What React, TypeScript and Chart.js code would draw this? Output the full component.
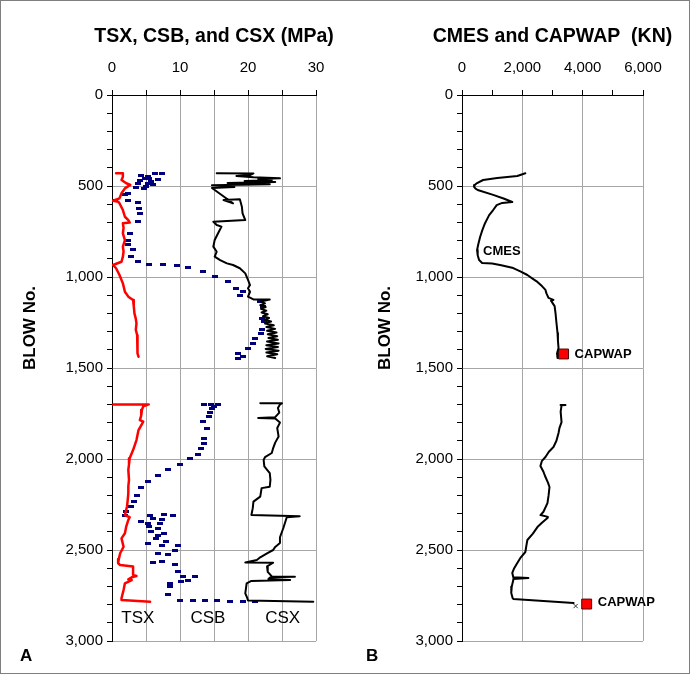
import React, { useEffect, useRef } from 'react';
import { Chart, registerables } from 'chart.js';

Chart.register(...registerables);

const FONT = '"Liberation Sans", Arial, Helvetica, sans-serif';

// ---------- Panel A : [blow number, stress MPa] ----------
const tsxUpper: [number, number][] = [
  [430, 0.6], [430, 1.6], [449, 1.6], [467, 1.4], [485, 2.1], [494, 2.7], [513, 1.9], [540, 1.4],
  [568, 1.1], [581, 0.15], [586, 0.9], [595, 1.1], [632, 1.6], [669, 1.9], [687, 2.4], [701, 2.6],
  [705, 1.6], [730, 1.7], [760, 1.6], [797, 1.9], [833, 1.6], [860, 1.7], [888, 1.6], [916, 1.4],
  [934, 0.15], [952, 0.6], [989, 1.1], [1035, 1.6], [1081, 1.9], [1108, 2.4], [1126, 3.1], [1160, 3.2],
  [1200, 3.3], [1230, 3.5], [1255, 3.6], [1290, 3.5], [1320, 3.7], [1346, 3.7], [1380, 3.8], [1401, 3.8],
  [1420, 3.7], [1438, 3.9],
];
const tsxLower: [number, number][] = [
  [1700, 0.2], [1700, 5.4], [1710, 4.6], [1730, 4.4], [1760, 4.3], [1786, 4.1], [1795, 4.6], [1841, 3.9],
  [1896, 3.6], [1951, 3.1], [1996, 2.6], [2030, 2.5], [2060, 2.4], [2115, 2.5], [2150, 2.4], [2188, 2.4],
  [2230, 2.3], [2262, 2.2], [2308, 1.9], [2320, 2.6], [2335, 2.4], [2370, 2.1], [2408, 1.9], [2436, 1.4],
  [2482, 1.7], [2518, 1.2], [2550, 1.0], [2573, 0.9], [2582, 1.2], [2591, 3.1], [2637, 3.1], [2643, 3.6],
  [2650, 2.9], [2661, 2.4], [2665, 2.9], [2683, 1.9], [2720, 1.7], [2765, 1.4], [2775, 1.4], [2784, 5.6],
];
const csbUpper: [number, number][] = [
  [430, 7.3], [434, 6.3], [445, 4.3], [449, 5.3], [458, 5.5], [458, 4.8], [467, 6.8], [471, 4.1],
  [476, 5.8], [485, 5.3], [489, 3.8], [494, 6.0], [500, 5.0], [507, 3.6], [513, 4.7], [540, 2.4],
  [549, 1.9], [577, 0.4], [581, 2.4], [592, 3.8], [623, 3.9], [650, 4.1], [696, 3.8], [760, 2.6],
  [797, 2.4], [824, 2.4], [848, 3.1], [888, 2.8], [916, 3.8], [929, 5.5], [934, 7.5], [938, 9.5],
  [947, 11.2], [971, 13.4], [995, 15.1], [1026, 17.1], [1062, 18.3], [1080, 19.3], [1099, 18.8],
  [1136, 21.7], [1160, 22.2], [1227, 22.0], [1245, 22.3], [1291, 22.0], [1310, 21.9], [1337, 21.0],
  [1364, 20.7], [1392, 20.0], [1419, 18.6], [1438, 19.3], [1447, 18.5],
];
const csbLower: [number, number][] = [
  [1700, 13.6], [1700, 14.6], [1703, 15.6], [1712, 15.0], [1725, 14.7], [1745, 14.4], [1765, 14.2],
  [1795, 13.4], [1832, 13.9], [1886, 13.6], [1914, 13.6], [1941, 13.1], [1974, 12.6], [1996, 11.4],
  [2029, 10.0], [2055, 8.2], [2092, 6.7], [2121, 5.3], [2158, 4.3], [2198, 3.7], [2234, 3.3],
  [2262, 2.8], [2289, 2.1], [2308, 1.9], [2308, 5.6], [2304, 7.7], [2308, 9.0], [2326, 6.0],
  [2330, 7.3], [2344, 4.3], [2353, 5.3], [2353, 7.0], [2372, 5.5], [2381, 6.8], [2399, 5.8],
  [2408, 7.7], [2418, 6.8], [2436, 6.5], [2454, 8.0], [2463, 5.3], [2473, 7.3], [2473, 9.7],
  [2500, 9.2], [2518, 6.8], [2527, 8.2], [2564, 7.3], [2569, 6.0], [2582, 9.2], [2619, 9.7],
  [2647, 10.4], [2647, 12.2], [2665, 11.2], [2674, 10.2], [2683, 8.5], [2701, 8.5], [2747, 8.2],
  [2775, 10.0], [2776, 11.9], [2778, 13.7], [2780, 15.4], [2781, 17.4], [2782, 19.2], [2783, 21.0],
];
const csxUpper: [number, number][] = [
  [430, 15.4], [431, 20.8], [440, 20.3], [445, 18.3], [452, 20.8], [458, 24.7], [462, 21.5], [468, 23.5],
  [472, 19.5], [478, 24.0], [484, 17.0], [490, 23.2], [496, 14.7], [505, 18.0], [511, 14.7], [595, 17.8],
  [577, 16.4], [573, 18.8], [614, 19.1], [650, 19.2], [687, 19.6], [696, 14.9], [714, 15.4], [723, 16.1],
  [760, 15.6], [797, 15.1], [833, 14.9], [861, 15.4], [888, 15.1], [907, 15.9], [925, 16.9], [934, 17.8],
  [952, 18.8], [980, 19.6], [1016, 20.0], [1044, 20.3], [1062, 20.0], [1081, 20.3], [1108, 20.0],
  [1123, 20.8], [1124, 23.2], [1135, 21.9], [1145, 22.5], [1155, 21.8], [1165, 22.6], [1175, 21.9],
  [1185, 22.7], [1195, 22.0], [1205, 22.9], [1215, 22.2], [1225, 23.1], [1235, 22.4], [1245, 23.4],
  [1255, 22.5], [1265, 23.8], [1275, 22.7], [1285, 24.0], [1295, 22.8], [1305, 24.2], [1315, 22.9],
  [1325, 24.3], [1335, 23.0], [1345, 24.4], [1355, 22.8], [1365, 24.5], [1375, 22.7], [1385, 24.4],
  [1395, 22.6], [1405, 24.5], [1415, 22.7], [1425, 24.3], [1435, 22.8], [1445, 24.0],
];
const csxLower: [number, number][] = [
  [1693, 21.8], [1694, 25.0], [1700, 24.7], [1720, 24.4], [1745, 24.6], [1770, 24.0], [1775, 21.5],
  [1778, 24.0], [1800, 24.7], [1830, 24.3], [1877, 24.5], [1910, 24.0], [1940, 23.7], [1967, 23.5],
  [1990, 22.5], [2005, 22.3], [2040, 22.4], [2077, 23.2], [2115, 23.3], [2152, 23.2], [2160, 22.0],
  [2207, 21.8], [2234, 20.8], [2270, 20.7], [2308, 20.5], [2314, 27.6], [2320, 25.7], [2379, 25.2],
  [2430, 24.7], [2462, 24.7], [2483, 24.0], [2500, 23.7], [2518, 22.8], [2540, 21.8], [2555, 21.3],
  [2569, 19.6], [2570, 23.7], [2590, 22.8], [2620, 22.9], [2645, 23.5], [2647, 26.9], [2650, 23.3],
  [2660, 23.0], [2665, 26.2], [2670, 20.5], [2683, 19.8], [2738, 19.6], [2765, 19.9], [2778, 20.0],
  [2784, 29.6],
];

// ---------- Panel B : [blow number, force kN] ----------
const cmesUpper: [number, number][] = [
  [430, 2100], [445, 1833], [456, 1167], [467, 700], [484, 500], [495, 420], [505, 400], [515, 450],
  [522, 520], [549, 1033], [570, 1400], [588, 1667], [593, 1333], [605, 1150], [632, 1033], [660, 900],
  [703, 767], [740, 680], [780, 600], [820, 540], [852, 500], [880, 520], [907, 567], [923, 667],
  [926, 1000], [935, 1300], [951, 1700], [970, 1950], [989, 2167], [1010, 2350], [1027, 2500],
  [1050, 2650], [1071, 2767], [1090, 2800], [1115, 2867], [1126, 3033], [1130, 2950], [1160, 3070],
  [1198, 3100], [1250, 3130], [1308, 3167], [1350, 3180], [1390, 3200], [1420, 3150], [1445, 3167],
];
const cmesLower: [number, number][] = [
  [1703, 3267], [1703, 3430], [1705, 3300], [1740, 3270], [1797, 3300], [1830, 3230], [1857, 3200],
  [1900, 3130], [1934, 3033], [1960, 2880], [1989, 2767], [2010, 2650], [2038, 2600], [2070, 2700],
  [2099, 2767], [2130, 2850], [2154, 2900], [2200, 2870], [2242, 2833], [2290, 2700], [2308, 2600],
  [2318, 2850], [2324, 2833], [2350, 2650], [2374, 2500], [2410, 2350], [2445, 2167], [2480, 2130],
  [2511, 2100], [2540, 1950], [2571, 1833], [2600, 1730], [2626, 1667], [2650, 1700], [2654, 2200],
  [2660, 1700], [2665, 1700], [2700, 1650], [2736, 1633], [2765, 1680], [2769, 1700], [2791, 3700],
];
const capwapPoints: [number, number][] = [[1423, 3367], [2797, 4133]];
const endMarkPoints: [number, number][] = [[2808, 3767]];

// ---------- tick labels ----------
const blowTickLabels = [0, 500, 1000, 1500, 2000, 2500, 3000];
const stressTickLabels = [0, 10, 20, 30];
const forceTickLabels = [0, 2000, 4000, 6000];

// ---------- text annotations [text, x value, blow] ----------
const stressNotes: [string, number, number][] = [['TSX', 3.8, 2874], ['CSB', 14.1, 2874], ['CSX', 25.1, 2874]];
const forceNotes: [string, number, number][] = [['CMES', 700, 857], ['CAPWAP', 3733, 1423], ['CAPWAP', 4500, 2786]];

const pts = (arr: [number, number][]) => arr.map(([b, v]) => ({ x: v, y: b }));

const lineDs = (label: string, arr: [number, number][], color: string, width: number) => ({
  label,
  data: pts(arr),
  showLine: true,
  borderColor: color,
  backgroundColor: color,
  borderWidth: width,
  borderJoinStyle: 'round',
  borderCapStyle: 'round',
  pointRadius: 0,
  pointHoverRadius: 0,
  tension: 0,
  fill: false,
});

const yScale = (width: number) => ({
  type: 'linear',
  reverse: true,
  min: 0,
  max: 3000,
  afterFit: (s: any) => { s.width = width; },
  ticks: {
    stepSize: 100,
    autoSkip: false,
    padding: 4,
    color: '#000',
    font: { family: FONT, size: 15 },
    callback: (v: any) => (blowTickLabels.includes(v) ? Number(v).toLocaleString('en-US') : ''),
  },
  grid: {
    color: (c: any) => (c.tick && c.tick.value % 500 === 0 ? '#a6a6a6' : 'rgba(0,0,0,0)'),
    tickColor: '#000',
    tickLength: 5,
    lineWidth: 1,
  },
  border: { color: '#000', width: 1 },
});

const xScale = (max: number, step: number, labels: number[], gridEvery: number) => ({
  type: 'linear',
  position: 'top',
  min: 0,
  max,
  afterFit: (s: any) => { s.height = 95; },
  ticks: {
    stepSize: step,
    autoSkip: false,
    maxRotation: 0,
    padding: 13,
    color: '#000',
    font: { family: FONT, size: 15 },
    callback: (v: any) => (labels.includes(v) ? Number(v).toLocaleString('en-US') : ''),
  },
  grid: {
    color: (c: any) => (c.tick && Math.abs(c.tick.value % gridEvery) < 1e-6 ? '#a6a6a6' : 'rgba(0,0,0,0)'),
    tickColor: '#000',
    tickLength: 5,
    lineWidth: 1,
  },
  border: { color: '#000', width: 1 },
});

const textPlugin = (title: string, titleY: number, yTitleX: number, corner: string, cornerX: number, notes: [string, number, number][], noteFont: string, noteAlign: CanvasTextAlign) => ({
  id: 'panelTexts',
  afterDraw(chart: any) {
    const { ctx, chartArea, scales } = chart;
    ctx.save();
    ctx.fillStyle = '#000';
    ctx.font = `bold 19.5px ${FONT}`;
    ctx.textAlign = 'center';
    ctx.textBaseline = 'middle';
    ctx.fillText(title, (chartArea.left + chartArea.right) / 2, titleY);
    ctx.save();
    ctx.translate(yTitleX, 328);
    ctx.rotate(-Math.PI / 2);
    ctx.font = `bold 17px ${FONT}`;
    ctx.fillText('BLOW No.', 0, 0);
    ctx.restore();
    ctx.font = `bold 17px ${FONT}`;
    ctx.textAlign = 'left';
    ctx.textBaseline = 'alphabetic';
    ctx.fillText(corner, cornerX, 661);
    ctx.font = noteFont;
    ctx.textAlign = noteAlign;
    ctx.textBaseline = 'middle';
    notes.forEach(([t, x, b]) => {
      ctx.fillText(t, scales.x.getPixelForValue(x), scales.y.getPixelForValue(b));
    });
    ctx.restore();
  },
});

function StressPanel() {
  const ref = useRef<HTMLCanvasElement>(null);
  useEffect(() => {
    const dash = document.createElement('canvas');
    dash.width = 6;
    dash.height = 3;
    const dctx = dash.getContext('2d')!;
    dctx.fillStyle = '#00007f';
    dctx.fillRect(0, 0, 6, 3);
    const chart = new Chart(ref.current!, {
      type: 'scatter',
      data: {
        datasets: [
          lineDs('CSX', csxUpper, '#000', 2),
          lineDs('CSX', csxLower, '#000', 2),
          lineDs('TSX', tsxUpper, '#ff0000', 2.5),
          lineDs('TSX', tsxLower, '#ff0000', 2.5),
          { label: 'CSB', data: pts(csbUpper), showLine: false, pointStyle: dash, pointRadius: 3, backgroundColor: '#00007f', borderColor: '#00007f' },
          { label: 'CSB', data: pts(csbLower), showLine: false, pointStyle: dash, pointRadius: 3, backgroundColor: '#00007f', borderColor: '#00007f' },
        ] as any,
      },
      options: {
        responsive: false,
        animation: false,
        devicePixelRatio: 1,
        layout: { padding: { left: 0, top: 0, right: 29, bottom: 33 } },
        plugins: { legend: { display: false }, tooltip: { enabled: false } },
        scales: { x: xScale(30, 5, stressTickLabels, 5), y: yScale(112) } as any,
      },
      plugins: [textPlugin('TSX, CSB, and CSX (MPa)', 37, 30, 'A', 20, stressNotes, `17px ${FONT}`, 'center')],
    });
    return () => chart.destroy();
  }, []);
  return <canvas ref={ref} width={345} height={674} style={{ position: 'absolute', left: 0, top: 0, width: 345, height: 674 }} />;
}

function ForcePanel() {
  const ref = useRef<HTMLCanvasElement>(null);
  useEffect(() => {
    const chart = new Chart(ref.current!, {
      type: 'scatter',
      data: {
        datasets: [
          lineDs('CMES', cmesUpper, '#000', 2),
          lineDs('CMES', cmesLower, '#000', 2),
          { label: 'end', data: pts(endMarkPoints), showLine: false, pointStyle: 'crossRot', pointRadius: 3, borderColor: '#333', borderWidth: 1 },
          { label: 'CAPWAP', data: pts(capwapPoints), showLine: false, pointStyle: 'rect', pointRadius: 7, backgroundColor: '#ff0000', borderColor: '#550000', borderWidth: 1 },
        ] as any,
      },
      options: {
        responsive: false,
        animation: false,
        devicePixelRatio: 1,
        layout: { padding: { left: 0, top: 0, right: 47, bottom: 33 } },
        plugins: { legend: { display: false }, tooltip: { enabled: false } },
        scales: { x: xScale(6000, 1000, forceTickLabels, 2000), y: yScale(117) } as any,
      },
      plugins: [textPlugin('CMES and CAPWAP  (KN)', 37, 40, 'B', 21, forceNotes, `bold 13px ${FONT}`, 'left')],
    });
    return () => chart.destroy();
  }, []);
  return <canvas ref={ref} width={345} height={674} style={{ position: 'absolute', left: 345, top: 0, width: 345, height: 674 }} />;
}

export default function App() {
  return (
    <div style={{ position: 'absolute', left: 0, top: 0, width: 690, height: 674, background: '#fff', overflow: 'hidden' }}>
      <StressPanel />
      <ForcePanel />
      <div style={{ position: 'absolute', left: 0, top: 0, width: 690, height: 674, boxSizing: 'border-box', border: '1px solid #7f7f7f', pointerEvents: 'none' }} />
    </div>
  );
}
